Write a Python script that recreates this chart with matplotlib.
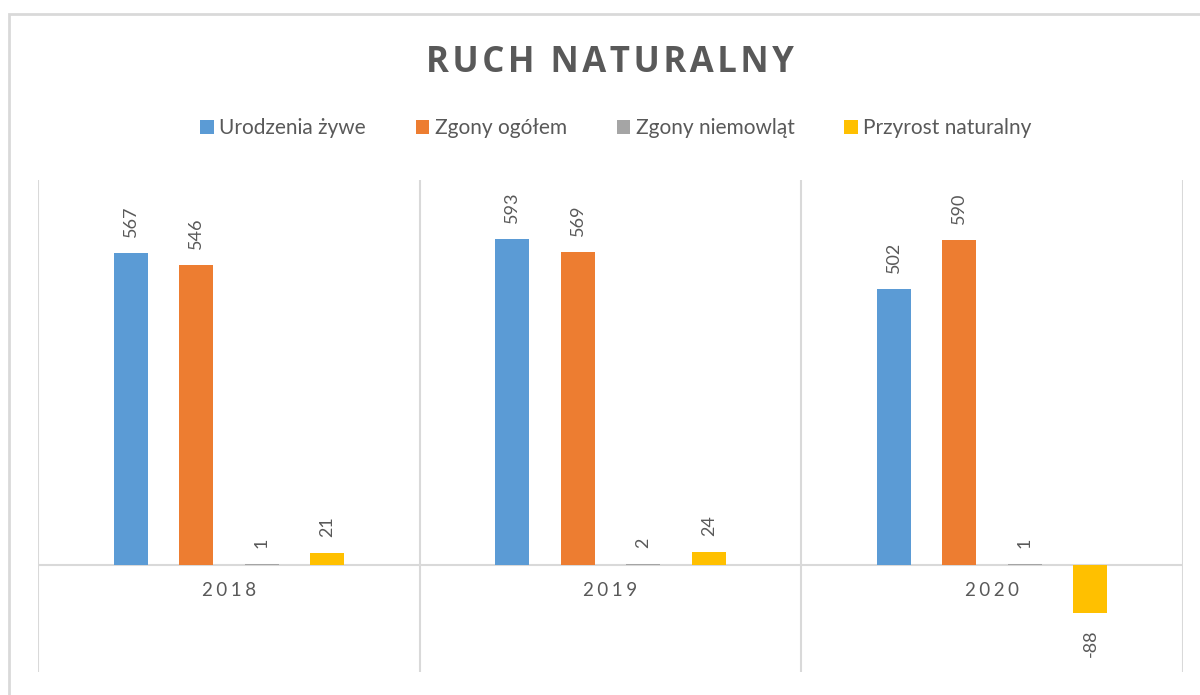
import numpy as np
import matplotlib.pyplot as plt
from matplotlib.patches import Rectangle

# data
years = ['2018', '2019', '2020']
series_names = ['Urodzenia żywe', 'Zgony ogółem', 'Zgony niemowląt', 'Przyrost naturalny']
urodzenia = [567, 593, 502]
zgony = [546, 569, 590]
zgony_niemowlat = [1, 2, 1]
przyrost = [21, 24, -88]

values = [urodzenia, zgony, zgony_niemowlat, przyrost]
colors = ['#5b9bd5', '#ed7d31', '#a5a5a5', '#ffc000']
text_gray = '#595959'
grid_gray = '#d9d9d9'

plt.rcParams['font.family'] = ['Lato', 'DejaVu Sans']

W, H = 1200, 695
fig = plt.figure(figsize=(12, 6.95), dpi=100)

# outer chart border
fig.patches.append(Rectangle((9 / W, -0.1), 1.2, (695 - 14) / H + 0.1, transform=fig.transFigure,
                             fill=False, edgecolor=grid_gray, linewidth=2))

ax = fig.add_axes([38 / W, (H - 672) / H, (1183 - 38) / W, (672 - 180) / H])
ax.set_xlim(-0.5, 2.5)
ax.set_ylim(-195, 700)

x = np.arange(len(years))
width = 0.089
step = 0.1716
for i in range(len(values)):
    pos = x + (i - 1.5) * step
    ax.bar(pos, values[i], width, color=colors[i], label=series_names[i], zorder=3)
    for xp, v in zip(pos, values[i]):
        if v >= 0:
            ax.annotate(str(v), (xp, v), xytext=(0, 16), textcoords='offset pixels',
                        rotation=90, ha='center', va='bottom', fontsize=13, color=text_gray)
        else:
            ax.annotate(str(v), (xp, v), xytext=(0, -16), textcoords='offset pixels',
                        rotation=90, ha='center', va='top', fontsize=13, color=text_gray)

# zero line and category separators
ax.axhline(0, color=grid_gray, linewidth=1.5, zorder=2)
for b in [-0.5, 0.5, 1.5, 2.5]:
    ax.axvline(b, color=grid_gray, linewidth=1.5, zorder=1)

for s in ax.spines.values():
    s.set_visible(False)
ax.set_xticks([])
ax.set_yticks([])

# year labels with letter spacing
for xi, yr in zip(x, years):
    ax.text(xi, -47, '\u2009\u200a'.join(yr), ha='center', va='center', fontsize=13.5, color=text_gray)

fig.text(610 / W, 1 - 63 / H, '\u200a'.join('RUCH NATURALNY'), ha='center', va='center',
         fontsize=25, fontweight='bold', color=text_gray, family=['Open Sans', 'DejaVu Sans'])

handles, labels = ax.get_legend_handles_labels()
fig.legend(handles, labels, loc='center', bbox_to_anchor=(616 / W, 1 - 128 / H), ncol=4,
           frameon=False, fontsize=15, handlelength=0.65, handleheight=0.65,
           handletextpad=0.25, columnspacing=2.4, labelcolor=text_gray)

plt.savefig('out.png', dpi=100)
